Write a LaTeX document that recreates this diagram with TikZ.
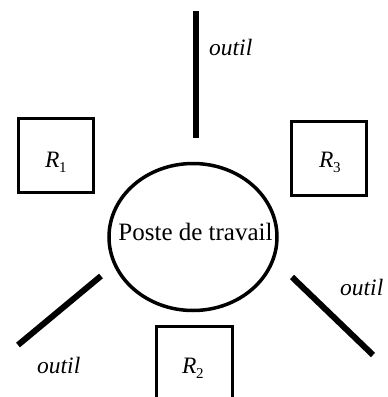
\documentclass[tikz,border=0pt]{standalone}
\usepackage{fontspec}
\setmainfont{Liberation Serif}
\usetikzlibrary{shapes.geometric}
% resource name: italic R with a lowered index
\newcommand\resname[1]{\textit{R}\kern-0.5pt\raisebox{-5pt}{\fontsize{15}{15}\selectfont #1}}
\begin{document}
\begin{tikzpicture}[x=1pt,y=-1pt,
  resbox/.style={draw,line width=3pt,minimum width=75pt,minimum height=74pt,inner sep=0pt},
  tool/.style={line width=6pt},
  toollabel/.style={font=\fontsize{23.5}{28}\selectfont\itshape,anchor=base west,inner sep=0pt},
  reslabel/.style={font=\fontsize{23.5}{28}\selectfont,anchor=base west,inner sep=0pt},
  ]
\useasboundingbox (0,0) rectangle (388,397);
\clip (0,0) rectangle (388,397);

% work station
\node[ellipse,draw,line width=3.5pt,minimum width=168pt,minimum height=147pt,inner sep=0pt] (poste) at (193,237) {};
\node[font=\fontsize{25}{30}\selectfont,anchor=base,inner sep=0pt] (posteText) at (195.5,240) {Poste de travail};

% resources
\node[resbox] (r1) at (56,155) {};
\node[resbox] (r3) at (328.5,158.5) {};
\node[reslabel] (r1Text) at (45,167) {\resname{1}};
\node[reslabel] (r3Text) at (319,167) {\resname{3}};
% R2 runs off the bottom edge
\coordinate (r2a) at (156.5,400);
\coordinate (r2b) at (156.5,326.5);
\coordinate (r2c) at (232.5,326.5);
\coordinate (r2d) at (232.5,400);
\draw[line width=3pt] (r2a) -- (r2b) -- (r2c) -- (r2d);
\node[reslabel] (r2Text) at (182,373) {\resname{2}};

% tools
\coordinate (t1a) at (196,11);
\coordinate (t1b) at (196,138);
\coordinate (t2a) at (18,345);
\coordinate (t2b) at (101,276);
\coordinate (t3a) at (292,277);
\coordinate (t3b) at (373,355);
\draw[tool] (t1a) -- (t1b);
\draw[tool] (t2a) -- (t2b);
\draw[tool] (t3a) -- (t3b);
\node[toollabel] (outilTop) at (209,55) {outil};
\node[toollabel] (outilLeft) at (37,373) {outil};
\node[toollabel] (outilRight) at (340,295) {outil};
\end{tikzpicture}
\end{document}
